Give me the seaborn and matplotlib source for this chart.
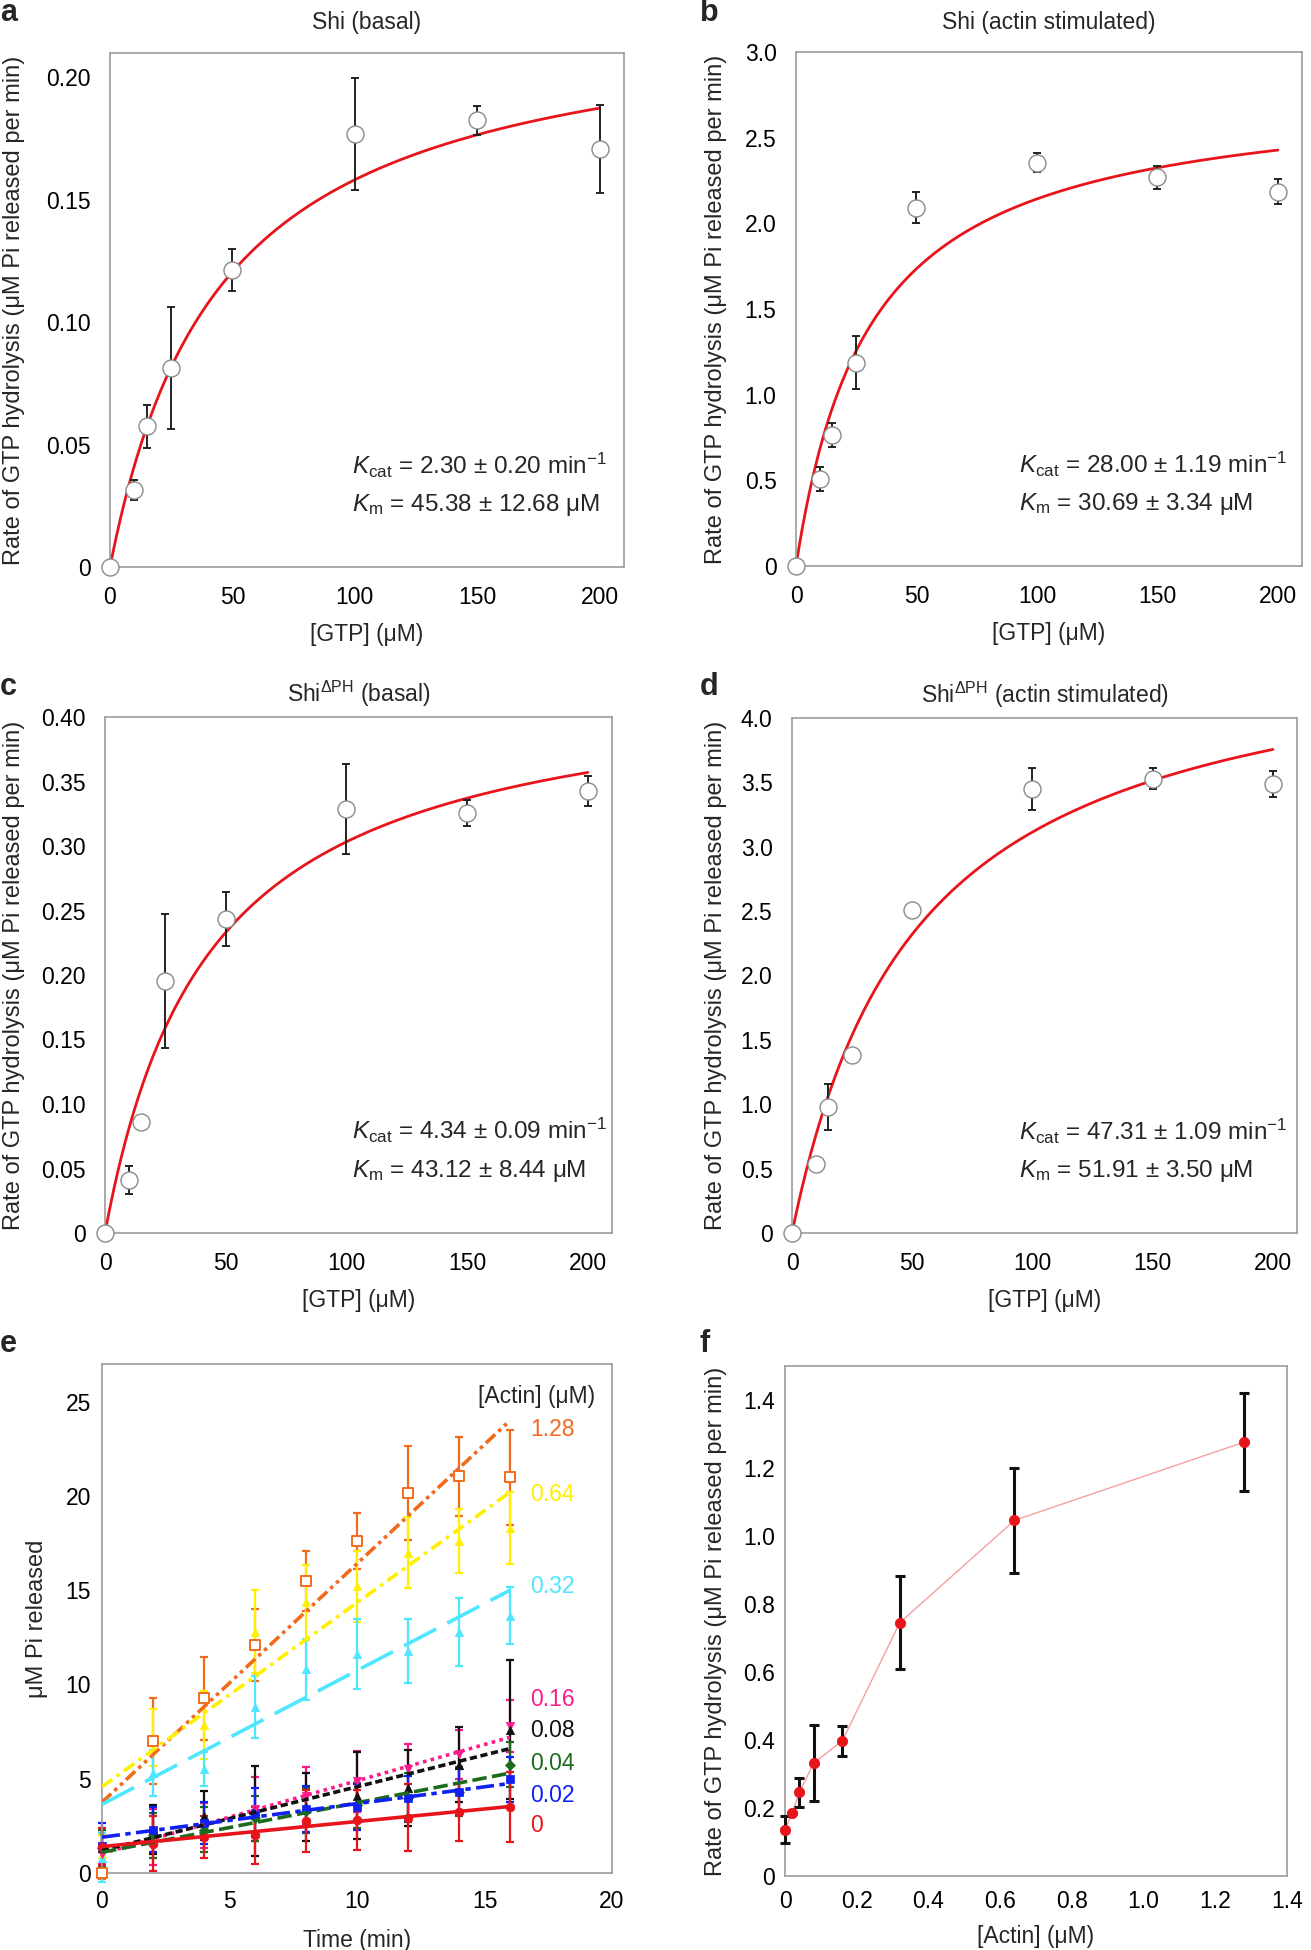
"""
Shi GTPase kinetics: Michaelis-Menten fits (a-d), Pi release time courses (e)
and actin dependence of the hydrolysis rate (f).
"""

import numpy as np
import pandas as pd
import matplotlib
matplotlib.use("Agg")
import matplotlib.pyplot as plt
import seaborn as sns
from matplotlib.ticker import FuncFormatter, MultipleLocator

W, H = 1311, 1950

# ---------------- panels a-d : rate vs [GTP] ----------------
gtp = [0, 10, 15, 25, 50, 100, 150, 200]

shi_basal = [0, 0.0315, 0.0575, 0.0812, 0.1214, 0.1770, 0.1825, 0.1706]
shi_basal_err = [0, 0.004, 0.0087, 0.025, 0.0087, 0.0228, 0.006, 0.018]

shi_actin = [0, 0.506, 0.762, 1.187, 2.092, 2.355, 2.268, 2.185]
shi_actin_err = [0, 0.07, 0.07, 0.155, 0.09, 0.055, 0.066, 0.075]

dph_basal = [0, 0.041, 0.0863, 0.1956, 0.2435, 0.3289, 0.3256, 0.3428]
dph_basal_err = [0, 0.011, 0, 0.052, 0.021, 0.035, 0.010, 0.0115]

dph_actin = [0, 0.534, 0.981, 1.383, 2.51, 3.449, 3.53, 3.488]
dph_actin_err = [0, 0, 0.178, 0, 0, 0.162, 0.08, 0.1]

kcat = [2.30, 28.00, 4.34, 47.31]
kcat_err = [0.20, 1.19, 0.09, 1.09]
km = [45.38, 30.69, 43.12, 51.91]
km_err = [12.68, 3.34, 8.44, 3.50]
enzyme_uM = 0.1

mm_titles = ["Shi (basal)", "Shi (actin stimulated)",
             r"Shi$^{\mathrm{ΔPH}}$ (basal)", r"Shi$^{\mathrm{ΔPH}}$ (actin stimulated)"]
mm_ymax = [0.21, 3.0, 0.40, 4.0]
mm_ystep = [0.05, 0.5, 0.05, 0.5]
mm_ydec = [2, 1, 2, 1]

# ---------------- panel e : Pi released vs time ----------------
time_min = [0, 2, 4, 6, 8, 10, 12, 14, 16]
actin_labels = ["1.28", "0.64", "0.32", "0.16", "0.08", "0.04", "0.02", "0"]

pi_128 = [0.0, 7.0, 9.28, 12.08, 15.48, 17.62, 20.14, 21.05, 20.98]
err_128 = [0.3, 2.3, 2.2, 1.9, 1.6, 1.5, 2.5, 2.1, 2.5]
pi_064 = [1.0, 7.2, 7.84, 12.8, 14.35, 15.2, 17.0, 17.6, 18.3]
err_064 = [1.0, 1.5, 1.8, 2.2, 2.0, 1.9, 1.9, 1.7, 1.9]
pi_032 = [0.8, 5.3, 5.5, 8.8, 10.8, 11.6, 11.8, 12.8, 13.65]
err_032 = [1.3, 1.2, 0.9, 1.65, 1.6, 1.85, 1.7, 1.8, 1.5]
pi_016 = [1.0, 1.9, 2.5, 3.4, 4.1, 4.86, 5.5, 6.3, 7.8]
err_016 = [0.5, 1.5, 1.2, 1.7, 1.5, 1.6, 1.35, 1.3, 1.4]
pi_008 = [1.3, 2.3, 3.05, 3.3, 3.5, 4.1, 4.5, 5.74, 7.6]
err_008 = [1.0, 1.3, 1.3, 2.4, 1.8, 2.3, 2.0, 2.0, 3.7]
pi_004 = [1.3, 2.0, 2.3, 2.9, 3.3, 3.6, 4.0, 4.3, 5.74]
err_004 = [1.0, 1.2, 1.2, 1.2, 1.2, 1.2, 1.3, 1.3, 1.2]
pi_002 = [1.45, 2.3, 2.65, 3.2, 3.4, 3.5, 3.97, 4.3, 4.97]
err_002 = [1.2, 1.2, 1.1, 1.3, 1.2, 1.2, 1.2, 1.2, 1.2]
pi_000 = [1.4, 1.55, 1.9, 2.0, 2.76, 2.8, 2.94, 3.25, 3.5]
err_000 = [1.0, 1.45, 1.1, 1.5, 1.65, 1.6, 1.77, 1.55, 1.85]

# linear fits (value at t=0 and t=16)
fit_start = [3.75, 4.57, 3.64, 1.04, 1.2, 1.1, 1.9, 1.4]
fit_end = [24.0, 20.2, 15.0, 7.2, 6.6, 5.3, 4.75, 3.53]
label_y = [23.5, 20.1, 15.2, 9.2, 7.55, 5.8, 4.1, 2.5]

# ---------------- panel f : rate vs [Actin] ----------------
actin = [0, 0.02, 0.04, 0.08, 0.16, 0.32, 0.64, 1.28]
rate = [0.136, 0.185, 0.246, 0.332, 0.398, 0.745, 1.046, 1.276]
rate_err = [0.04, 0.0, 0.043, 0.112, 0.044, 0.137, 0.154, 0.145]


sns.set_style("white")
plt.rcParams["font.family"] = ["Liberation Sans", "DejaVu Sans"]
plt.rcParams["mathtext.fontset"] = "custom"
plt.rcParams["mathtext.rm"] = "Liberation Sans"
plt.rcParams["mathtext.it"] = "Liberation Sans:italic"
plt.rcParams["mathtext.bf"] = "Liberation Sans:bold"
plt.rcParams["axes.unicode_minus"] = True

SPINE = "#9c9c9c"
TICK_FS = 16.5
LABEL_FS = 16.5
YLAB_FS = 17


def px_axes(fig, left, top, right, bottom):
    return fig.add_axes([left / W, 1 - bottom / H, (right - left) / W, (bottom - top) / H])


def fmt(dec):
    return FuncFormatter(lambda v, p: "0" if abs(v) < 1e-9 else f"{v:.{dec}f}")


def style_axes(ax, pad):
    for s in ax.spines.values():
        s.set_color(SPINE)
        s.set_linewidth(1.2)
        s.set_visible(True)
    ax.tick_params(direction="in", length=6, width=1, color=SPINE,
                   labelsize=TICK_FS, pad=pad, labelcolor="black")


def panel_letter(fig, x, y, letter):
    fig.text(x / W, 1 - y / H, letter, fontsize=22, fontweight="bold", va="baseline", ha="left")


fig = plt.figure(figsize=(W / 100, H / 100), dpi=100)

# axes boxes in pixel units: left, top, right, bottom
boxes = [(110, 53, 624, 567), (796, 52, 1302, 566),
         (105, 717, 612, 1233), (792, 718, 1297, 1233)]
letters = [("a", 0, 21), ("b", 700, 21), ("c", 0, 695), ("d", 700, 695)]
ylab_right_px = [25, 727, 25, 727]
title_y = [1.06, 1.058, 1.044, 1.045]
note_x = [0.47, 0.441, 0.488, 0.45]
rates = [shi_basal, shi_actin, dph_basal, dph_actin]
rate_errs = [shi_basal_err, shi_actin_err, dph_basal_err, dph_actin_err]

for i in range(4):
    ax = px_axes(fig, *boxes[i])
    df = pd.DataFrame({"gtp": gtp, "rate": rates[i], "err": rate_errs[i]})

    s = np.linspace(0, 200, 300)
    vmax = kcat[i] * enzyme_uM
    curve = pd.DataFrame({"gtp": s, "rate": vmax * s / (km[i] + s)})
    sns.lineplot(data=curve, x="gtp", y="rate", ax=ax, color="#e8141c", linewidth=2.0, zorder=2)

    ax.errorbar(df["gtp"], df["rate"], yerr=df["err"], fmt="none", ecolor="#222222",
                elinewidth=1.4, capsize=3, capthick=1.4, zorder=3)
    sns.scatterplot(data=df, x="gtp", y="rate", ax=ax, s=150, marker="o",
                    facecolor="white", edgecolor="#8a8a8a", linewidth=1.0, zorder=4, clip_on=False)

    ax.set_xlim(0, 210)
    ax.set_ylim(0, mm_ymax[i])
    ax.yaxis.set_major_locator(MultipleLocator(mm_ystep[i]))
    ax.set_xticks([0, 50, 100, 150, 200])
    ax.xaxis.set_major_formatter(fmt(0))
    ax.yaxis.set_major_formatter(fmt(mm_ydec[i]))
    style_axes(ax, 14)

    ax.set_xlabel("[GTP] (μM)", fontsize=LABEL_FS)
    ax.set_ylabel("Rate of GTP hydrolysis (μM Pi released per min)", fontsize=YLAB_FS)
    ax.xaxis.set_label_coords(0.5, -0.109)
    left, _, right, _ = boxes[i]
    ax.yaxis.set_label_coords((ylab_right_px[i] - left) / (right - left), 0.5)
    ax.text(0.5, title_y[i], mm_titles[i], transform=ax.transAxes, ha="center", va="center",
            fontsize=16.5)

    ax.text(note_x[i], 0.198,
            r"$K_{\mathrm{cat}}$ = " + f"{kcat[i]:.2f} ± {kcat_err[i]:.2f} min" + r"$^{-1}$",
            transform=ax.transAxes, ha="left", va="center", fontsize=17.5)
    ax.text(note_x[i], 0.12,
            r"$K_{\mathrm{m}}$ = " + f"{km[i]:.2f} ± {km_err[i]:.2f} μM",
            transform=ax.transAxes, ha="left", va="center", fontsize=17.5)

for letter, x, y in letters:
    panel_letter(fig, x, y, letter)

# ---------------- panel e ----------------
ax = px_axes(fig, 102, 1364, 612, 1873)
series = [pi_128, pi_064, pi_032, pi_016, pi_008, pi_004, pi_002, pi_000]
errors = [err_128, err_064, err_032, err_016, err_008, err_004, err_002, err_000]
colors = ["#f26b1d", "#fff000", "#4fe6ff", "#ff1a8c", "#111111", "#1c6b1c", "#1020f0", "#e8141c"]
markers = ["s", "^", "^", "v", "^", "D", "s", "o"]
marker_size = [42, 36, 36, 36, 36, 26, 40, 40]
dash = [(0, (3.5, 1.2, 1, 1.2, 1, 1.2)), (0, (3.5, 1.5, 1, 1.5)), (0, (10, 3.5)),
        (0, (1, 1.2)), (0, (2, 1)), (0, (4, 1.5)), (0, (5, 1.5, 1.5, 1.5)), "-"]

for k in range(len(series)):
    df = pd.DataFrame({"t": time_min, "pi": series[k], "err": errors[k]})
    ax.errorbar(df["t"], df["pi"], yerr=df["err"], fmt="none", ecolor=colors[k],
                elinewidth=1.6, capsize=3, capthick=1.6, zorder=2, clip_on=False)
    if k == 0:
        sns.scatterplot(data=df, x="t", y="pi", ax=ax, marker="s", s=marker_size[k],
                        facecolor="white", edgecolor=colors[k], linewidth=1.4, zorder=4, clip_on=False)
    else:
        sns.scatterplot(data=df, x="t", y="pi", ax=ax, marker=markers[k], s=marker_size[k],
                        color=colors[k], edgecolor=colors[k], linewidth=0.5, zorder=3, clip_on=False)
    fit = pd.DataFrame({"t": [time_min[0], time_min[-1]], "pi": [fit_start[k], fit_end[k]]})
    sns.lineplot(data=fit, x="t", y="pi", ax=ax, color=colors[k], linewidth=2.6,
                 linestyle=dash[k], zorder=5)
    ax.text(16.8, label_y[k], actin_labels[k], color=colors[k], fontsize=LABEL_FS,
            ha="left", va="center")

ax.text(19.35, 25.3, "[Actin] (μM)", fontsize=LABEL_FS, ha="right", va="center")
ax.set_xlim(0, 20)
ax.set_ylim(0, 27)
ax.xaxis.set_major_locator(MultipleLocator(5))
ax.yaxis.set_major_locator(MultipleLocator(5))
ax.xaxis.set_major_formatter(fmt(0))
ax.yaxis.set_major_formatter(fmt(0))
style_axes(ax, 8)
ax.tick_params(axis="x", pad=12)
ax.set_xlabel("Time (min)", fontsize=LABEL_FS)
ax.set_ylabel("μM Pi released", fontsize=YLAB_FS)
ax.xaxis.set_label_coords(0.5, -0.11)
ax.yaxis.set_label_coords(-0.105, 0.5)
panel_letter(fig, 0, 1352, "e")

# ---------------- panel f ----------------
ax = px_axes(fig, 785, 1366, 1287, 1876)
df = pd.DataFrame({"actin": actin, "rate": rate, "err": rate_err})
sns.lineplot(data=df, x="actin", y="rate", ax=ax, color="#f5a0a0", linewidth=1.0, zorder=2)
ax.errorbar(df["actin"], df["rate"], yerr=df["err"], fmt="none", ecolor="#111111",
            elinewidth=2.2, capsize=3.5, capthick=2.2, zorder=3, clip_on=False)
sns.scatterplot(data=df, x="actin", y="rate", ax=ax, s=55, color="#e8141c",
                edgecolor="#e8141c", zorder=4, clip_on=False)
ax.set_xlim(0, 1.4)
ax.set_ylim(0, 1.5)
ax.xaxis.set_major_locator(MultipleLocator(0.2))
ax.set_yticks(np.arange(0, 1.41, 0.2))
ax.xaxis.set_major_formatter(fmt(1))
ax.yaxis.set_major_formatter(fmt(1))
style_axes(ax, 7)
ax.tick_params(axis="x", pad=10)
ax.set_xlabel("[Actin] (μM)", fontsize=LABEL_FS)
ax.set_ylabel("Rate of GTP hydrolysis (μM Pi released per min)", fontsize=YLAB_FS)
ax.xaxis.set_label_coords(0.5, -0.096)
ax.yaxis.set_label_coords(-0.115, 0.5)
panel_letter(fig, 700, 1352, "f")

fig.savefig("out.png", dpi=100, facecolor="white")
